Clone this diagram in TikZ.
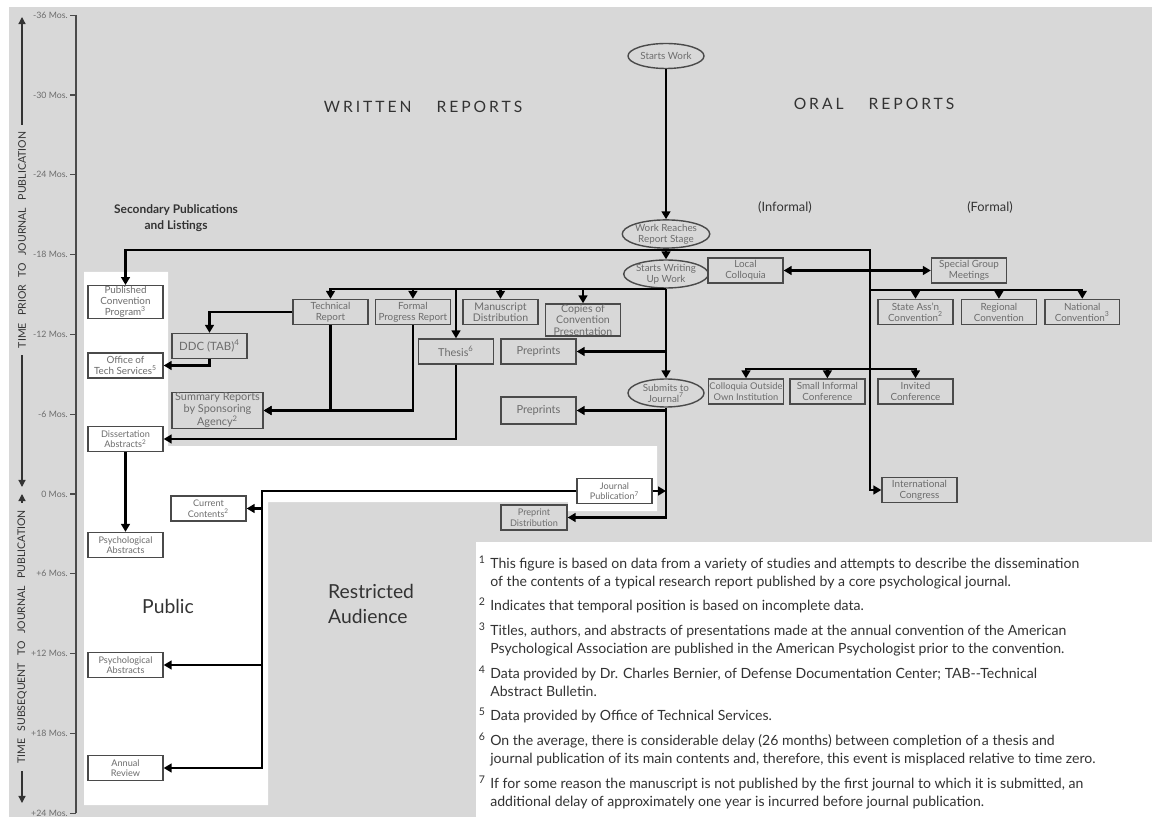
\documentclass[tikz,border=0pt]{standalone}
\usepackage{fontspec}
\setmainfont{Lato}
\newfontfamily\spacedfont[LetterSpace=19]{Lato}
\usepackage{tikz}
\usetikzlibrary{arrows.meta,shapes.geometric,positioning}
\definecolor{bggray}{HTML}{D8D8D8}
\definecolor{boxtext}{HTML}{6C6C6C}
\definecolor{boxline}{HTML}{4A4A4A}
\definecolor{darktext}{HTML}{333333}
\newcommand{\fnum}[1]{\llap{\textsuperscript{#1}\hspace{2.5pt}}}
\newcommand{\wgap}{\hspace{0.7em}}
\tikzstyle{report}=[draw=boxline,line width=0.8pt,text=boxtext,align=center,
  minimum width=1.5cm,minimum height=0.5cm,inner sep=0.5pt,
  font=\fontsize{5.6}{6.2}\selectfont]
\tikzstyle{event}=[report,ellipse,inner sep=0pt,minimum width=1.52cm,minimum height=0.5cm]
\tikzstyle{link}=[-{Triangle[length=4.5pt,width=5pt]},line width=1.3pt,draw=black]
\tikzstyle{both}=[{Triangle[length=4.5pt,width=5pt]}-{Triangle[length=4.5pt,width=5pt]},line width=1.3pt,draw=black]
\tikzstyle{axis}=[-{Triangle[length=4pt,width=4pt]},line width=0.7pt,draw=darktext]
\tikzstyle{axislabel}=[text=darktext,inner sep=4pt,font=\fontsize{6}{7}\selectfont]
\tikzstyle{monthtick}=[text=boxtext,inner sep=1pt,font=\fontsize{5}{6}\selectfont]
\tikzstyle{heading}=[text=darktext,font=\spacedfont\fontsize{8.9}{10}\selectfont]
\tikzstyle{subhead}=[text=darktext,align=center,font=\fontsize{7.3}{9}\selectfont]
\tikzstyle{area}=[text=darktext,align=left,font=\fontsize{11}{14.5}\selectfont]
\tikzstyle{note}=[text=darktext,anchor=north west,align=left,inner sep=0pt,
  font=\fontsize{8}{10.2}\selectfont]

\begin{document}
\begin{tikzpicture}[x=0.02cm,y=-0.02cm]
\useasboundingbox (0,0) rectangle (1152,817);
% backdrop and audiences
\fill[bggray] (9,7) rectangle (1152,817);
\fill[white] (84,272) -- (168,272) -- (168,446) -- (657,446) -- (657,511)
  -- (568,511) -- (568,502) -- (268,502) -- (268,805) -- (84,805) -- cycle;
\fill[white] (476,542) rectangle (1152,817);

% time scale
\draw[line width=0.9pt,draw=boxline] (76,15) -- (76,813);
\foreach \m/\t in {-36/-36,-30/-30,-24/-24,-18/-18,-12/-12,-6/-6,0/0,6/+6,12/+12,18/+18,24/+24}
  \draw[line width=0.7pt,draw=boxline] (76,{494+13.3*(\m)}) -- (70,{494+13.3*(\m)})
    node[monthtick,anchor=east] {\t\ Mos.};
\node[axislabel,rotate=90] (prior) at (22,240) {TIME\wgap PRIOR\wgap TO\wgap JOURNAL\wgap PUBLICATION};
\node[axislabel,rotate=90] (after) at (22,637) {TIME\wgap SUBSEQUENT\wgap TO\wgap JOURNAL\wgap PUBLICATION};
\coordinate (ptop) at (22,17);
\coordinate (pbot) at (22,487);
\coordinate (atop) at (22,494);
\coordinate (abot) at (22,803);
\draw[axis] (prior.east) -- (ptop);
\draw[axis] (prior.west) -- (pbot);
\draw[axis] (after.east) -- (atop);
\draw[axis] (after.west) -- (abot);

% headings
\node[heading] (written) at (423,107) {WRITTEN\hspace{1.6em}REPORTS};
\node[heading] (oral) at (874,104) {ORAL\hspace{1.6em}REPORTS};
\node[subhead,font=\bfseries\fontsize{6.8}{8.8}\selectfont] (second) at (176,218) {Secondary Publications\\and Listings};
\node[subhead] (informal) at (785,207) {(Informal)};
\node[subhead] (formal) at (990,207) {(Formal)};
\node[area] (public) at (168,606) {Public};
\node[area,anchor=west] (restricted) at (322,604) {Restricted\\Audience};

% main course of the work
\node[event] (sw) at (666,56) {Starts Work};
\node[event,minimum width=1.7cm,minimum height=0.56cm] (wr) at (666,234) {Work Reaches\\Report Stage};
\node[event] (wu) at (666,274) {Starts Writing\\Up Work};
\node[event,minimum height=0.56cm] (sj) at (666,393) {Submits to\\Journal\textsuperscript{7}};

% written reports
\node[report] (pcp) at (125.5,302) {Published\\Convention\\Program\textsuperscript{3}};
\node[report] (ots) at (125.5,365.5) {Office of\\Tech Services\textsuperscript{5}};
\node[report,font=\fontsize{6.5}{7}\selectfont] (ddc) at (209.5,346) {DDC (TAB)\textsuperscript{4}};
\node[report] (tr) at (330.5,312) {Technical\\Report};
\node[report,right=0.12cm of tr] (fpr) {Formal\\Progress Report};
\node[report,font=\fontsize{6.2}{7}\selectfont] (th) at (456,351.5) {Thesis\textsuperscript{6}};
\node[report,minimum width=1.82cm,font=\fontsize{6.2}{6.4}\selectfont] (sr) at (217.5,410.5) {Summary Reports\\by Sponsoring\\Agency\textsuperscript{2}};
\node[report,font=\fontsize{5.2}{6}\selectfont] (da) at (125.5,439) {Dissertation\\Abstracts\textsuperscript{2}};
\node[report,font=\fontsize{5.2}{6}\selectfont] (pa1) at (125.5,545) {Psychological\\Abstracts};
\node[report,font=\fontsize{6}{6.6}\selectfont] (md) at (500.5,312) {Manuscript\\Distribution};
\node[report,font=\fontsize{6}{6.4}\selectfont] (ccp) at (583,320) {Copies of\\Convention\\Presentation};
\node[report,font=\fontsize{6.3}{7}\selectfont] (pp1) at (538.5,351.5) {Preprints};
\node[report,font=\fontsize{6.3}{7}\selectfont,minimum height=0.54cm] (pp2) at (538.5,410.5) {Preprints};
\node[report,font=\fontsize{5.2}{6}\selectfont] (jp) at (614.5,491) {Journal\\Publication\textsuperscript{7}};
\node[report,minimum width=1.32cm,font=\fontsize{5.2}{6}\selectfont] (pd) at (534,517.5) {Preprint\\Distribution};
\node[report,font=\fontsize{5.2}{6}\selectfont] (cc) at (208.5,508.5) {Current\\Contents\textsuperscript{2}};
\node[report,font=\fontsize{5.2}{6}\selectfont] (pa2) at (125.5,665) {Psychological\\Abstracts};
\node[report,font=\fontsize{5.2}{6}\selectfont] (ar) at (125.5,768) {Annual\\Review};

% oral reports
\node[report] (lc) at (745.5,270.5) {Local\\Colloquia};
\node[report] (sgm) at (969,270.5) {Special Group\\Meetings};
\node[report] (sac) at (915.5,312) {State Ass'n\\Convention\textsuperscript{2}};
\node[report,right=0.14cm of sac] (rc) {Regional\\Convention};
\node[report,right=0.14cm of rc] (nc) {National\\Convention\textsuperscript{3}};
\node[report,font=\fontsize{5.3}{6.2}\selectfont] (coi) at (746,391.5) {Colloquia Outside\\Own Institution};
\node[report,right=0.1cm of coi] (sic) {Small Informal\\Conference};
\node[report] (ic) at (915.5,391.5) {Invited\\Conference};
\node[report] (icg) at (919.5,490) {International\\Congress};

% connectors
\path[link]
  (sw) edge (wr)
  (wr) edge (wu)
  (wu) edge (sj)
  (da) edge (pa1);

\coordinate (rbus) at (666,250);
\coordinate (ocol) at (870,490);
\draw[link] (rbus) -| (pcp.north);
\draw[link] (rbus) -| (ocol) -- (icg.west);

\coordinate (wbus) at (666,289);
\foreach \n in {tr,fpr,th,md,ccp}
  \draw[link] (wbus) -| (\n.north);
\draw[link] (wu.south |- pp1) -- (pp1.east);
\draw[link] (tr.west) -| (ddc.north);
\draw[link] (ddc.south) |- (ots.east);
\draw[link] (tr.south) |- (sr.east);
\draw[link] (fpr.south) |- (sr.east);
\draw[link] (th.south) |- (da.east);

\draw[link] (sj.south |- pp2) -- (pp2.east);
\draw[link] (sj.south) |- (pd.east);
\draw[link] (jp.east) -- (jp.east -| sj.south);

\coordinate (jbus) at (262,491);
\draw[link] (jp.west) -- (jbus) |- (ar.east);
\foreach \n in {cc,pa2}
  \draw[link] (jbus |- \n.east) -- (\n.east);

\draw[both] (lc.east) -- (sgm.west);
\coordinate (fbus) at (870,290);
\foreach \n in {sac,rc,nc}
  \draw[link] (fbus) -| (\n.north);
\coordinate (ibus) at (870,369);
\foreach \n in {coi,sic,ic}
  \draw[link] (ibus) -| (\n.north);

% notes
\node[note] (n1) at (490,556) {\fnum{1}This figure is based on data from a variety of studies and attempts to describe the dissemination\\of the contents of a typical research report published by a core psychological journal.};
\node[note] (n2) at (490,598) {\fnum{2}Indicates that temporal position is based on incomplete data.};
\node[note] (n3) at (490,623) {\fnum{3}Titles, authors, and abstracts of presentations made at the annual convention of the American\\Psychological Association are published in the American Psychologist prior to the convention.};
\node[note] (n4) at (490,666) {\fnum{4}Data provided by Dr. Charles Bernier, of Defense Documentation Center; TAB-{}-Technical\\Abstract Bulletin.};
\node[note] (n5) at (490,708) {\fnum{5}Data provided by Office of Technical Services.};
\node[note] (n6) at (490,733) {\fnum{6}On the average, there is considerable delay (26 months) between completion of a thesis and\\journal publication of its main contents and, therefore, this event is misplaced relative to time zero.};
\node[note] (n7) at (490,776) {\fnum{7}If for some reason the manuscript is not published by the first journal to which it is submitted, an\\additional delay of approximately one year is incurred before journal publication.};
\end{tikzpicture}
\end{document}
